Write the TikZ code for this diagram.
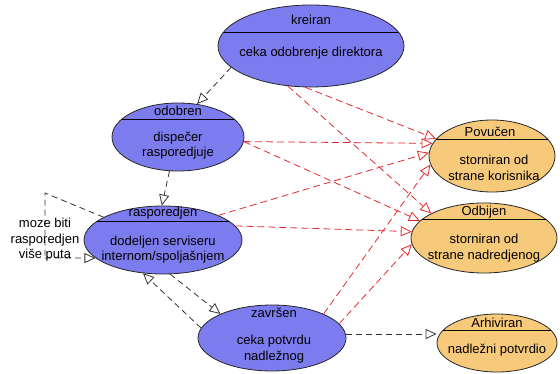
\documentclass[tikz,border=0pt]{standalone}
\usepackage{fontspec}
\setmainfont{Liberation Sans}
\usetikzlibrary{arrows.meta,shapes.geometric}

\definecolor{stateblue}{RGB}{124,124,238}
\definecolor{stateorange}{RGB}{247,201,122}
\definecolor{linkred}{RGB}{228,40,45}

\tikzset{
  state/.style={ellipse, draw=black!85, line width=0.8pt, inner sep=0pt},
  blue state/.style={state, fill=stateblue},
  orange state/.style={state, fill=stateorange},
  statetext/.style={font=\fontsize{13}{15.5}\selectfont, align=center, inner sep=0pt},
  opentip/.style={-{Triangle[open,length=11pt,width=10pt,line width=0.8pt]}},
  flow/.style={draw=black!80, line width=0.8pt, dash pattern=on 6pt off 4pt, opentip},
  cancel/.style={draw=linkred, line width=0.8pt, dash pattern=on 7pt off 4pt, opentip},
  loopline/.style={draw=black!80, line width=0.8pt, dash pattern=on 6pt off 4pt},
}

% state ellipse: name, style, x, y, x radius, y radius
\newcommand\umlstate[6]{%
  \node[#2, minimum width=2*#5pt, minimum height=2*#6pt] (#1) at (#3,#4) {};}
% horizontal compartment line, kept inside the ellipse
\newcommand\statedivider[4]{%
  \begin{scope}
    \clip (#1.center) ellipse [x radius=#2pt, y radius=#3pt];
    \draw[line width=0.9pt] (#1.west |- 0,#4) -- (#1.east |- 0,#4);
  \end{scope}}

\begin{document}
\begin{tikzpicture}[x=1pt, y=-1pt]
  \useasboundingbox (0,0) rectangle (560,374);

  % ---- states ----
  \umlstate{kreiran}{blue state}{311}{46}{93}{41}
  \statedivider{kreiran}{93}{41}{32}
  \node[statetext] (kreiran-t) at (311,20) {kreiran};
  \node[statetext] (kreiran-b) at (311,53) {ceka odobrenje direktora};

  \umlstate{odobren}{blue state}{178}{137}{66}{34}
  \statedivider{odobren}{66}{34}{119}
  \node[statetext] (odobren-t) at (178,111) {odobren};
  \node[statetext] (odobren-b) at (178,145.5) {dispečer\\rasporedjuje};

  \umlstate{rasporedjen}{blue state}{163}{240}{79}{34}
  \statedivider{rasporedjen}{79}{34}{221}
  \node[statetext] (rasporedjen-t) at (163,213) {rasporedjen};
  \node[statetext] (rasporedjen-b) at (163,249.5) {dodeljen serviseru\\internom/spoljašnjem};

  \umlstate{zavrsen}{blue state}{272}{338}{74}{33}
  \node[statetext] (zavrsen-t) at (274,313) {završen};
  \node[statetext] (zavrsen-b) at (274,349) {ceka potvrdu\\nadležnog};

  \umlstate{povucen}{orange state}{492}{156}{63}{36}
  \statedivider{povucen}{63}{36}{139}
  \node[statetext] (povucen-t) at (490,132) {Povučen};
  \node[statetext] (povucen-b) at (494,168) {storniran od\\strane korisnika};

  \umlstate{odbijen}{orange state}{484}{238}{73}{35}
  \statedivider{odbijen}{73}{35}{219}
  \node[statetext] (odbijen-t) at (484,212) {Odbijen};
  \node[statetext] (odbijen-b) at (484,248) {storniran od\\strane nadredjenog};

  \umlstate{arhiviran}{orange state}{497}{343}{60}{29}
  \statedivider{arhiviran}{60}{29}{330}
  \node[statetext] (arhiviran-t) at (497,323) {Arhiviran};
  \node[statetext] (arhiviran-b) at (497,350) {nadležni potvrdio};

  % ---- normal flow ----
  \draw[flow] (kreiran.195) -- (odobren.60);
  \draw[flow] (odobren.256) -- (rasporedjen.92);
  \draw[flow] (rasporedjen.282) -- (zavrsen.155);
  \draw[flow] (zavrsen.172) -- (rasporedjen.239);
  \draw[flow] (zavrsen.east |- 0,334) -- (arhiviran.west |- 0,334);

  % ---- reassignment loop ----
  \coordinate (loop-top) at (45,193);
  \coordinate (loop-bottom) at (45,258);
  \draw[loopline] (rasporedjen.159) -- (loop-top) -- (loop-bottom);
  \draw[flow] (loop-bottom) -- (rasporedjen.195);
  \node[statetext] (loop-label) at (45,240) {moze biti\\rasporedjen\\više puta};

  % ---- cancellations ----
  \draw[cancel] (kreiran.262) -- (povucen.163);
  \draw[cancel] (kreiran.240) -- (odbijen.155);
  \draw[cancel] (odobren.356) -- (povucen.168);
  \draw[cancel] (odobren.356) -- (odbijen.165);
  \draw[cancel] (rasporedjen.24) -- (povucen.177);
  \draw[cancel] (rasporedjen.11) -- (odbijen.175);
  \draw[cancel] (zavrsen.25) -- (povucen.188);
  \draw[cancel] (zavrsen.12) -- (odbijen.185);
\end{tikzpicture}
\end{document}
